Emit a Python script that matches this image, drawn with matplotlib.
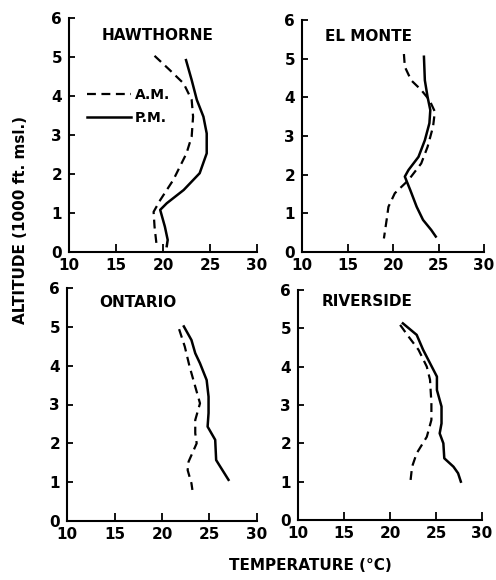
import matplotlib
matplotlib.use("Agg")
import matplotlib.pyplot as plt

plt.rcParams['font.family'] = ['DejaVu Sans']
plt.rcParams['font.weight'] = 'bold'

stations = ["HAWTHORNE", "EL MONTE", "ONTARIO", "RIVERSIDE"]

# Hawthorne
haw_am_t = [19.1, 20.7, 22.2, 23.05, 23.2, 23.05, 22.5, 21.1, 19.7, 19.0, 19.1, 19.3]
haw_am_z = [5.03, 4.67, 4.32, 3.9, 3.47, 2.96, 2.53, 1.85, 1.33, 1.03, 0.65, 0.22]
haw_pm_t = [22.45, 23.05, 23.6, 24.3, 24.65, 24.65, 23.9, 22.2, 20.4, 19.7, 20.2, 20.5, 20.4]
haw_pm_z = [4.92, 4.41, 3.9, 3.47, 3.04, 2.53, 2.02, 1.59, 1.25, 1.08, 0.65, 0.31, 0.15]

# El Monte
elm_am_t = [21.2, 21.3, 22.0, 23.1, 24.0, 24.6, 24.4, 23.8, 23.1, 21.7, 20.2, 19.5, 19.3, 19.0]
elm_am_z = [5.12, 4.79, 4.44, 4.19, 3.93, 3.63, 3.24, 2.72, 2.29, 1.86, 1.52, 1.17, 0.83, 0.35]
elm_pm_t = [23.4, 23.5, 23.8, 24.1, 24.0, 23.5, 22.8, 21.7, 21.3, 21.9, 22.6, 23.3, 24.2, 24.7]
elm_pm_z = [5.05, 4.44, 4.01, 3.67, 3.33, 2.89, 2.46, 2.12, 1.95, 1.6, 1.17, 0.83, 0.57, 0.4]

# Ontario
ont_am_t = [21.8, 22.4, 22.9, 23.5, 24.0, 23.5, 23.5, 23.65, 22.8, 22.7, 23.1, 23.2]
ont_am_z = [4.94, 4.49, 3.98, 3.46, 3.03, 2.6, 2.26, 2.0, 1.53, 1.31, 0.97, 0.8]
ont_pm_t = [22.3, 23.1, 23.5, 24.0, 24.7, 24.9, 24.9, 24.8, 25.6, 25.7, 25.9, 27.0]
ont_pm_z = [5.01, 4.66, 4.32, 4.06, 3.63, 3.2, 2.78, 2.43, 2.09, 1.57, 1.49, 1.06]

# Riverside
riv_am_t = [21.1, 22.0, 23.1, 24.0, 24.35, 24.5, 24.5, 24.0, 22.9, 22.4, 22.2]
riv_am_z = [5.09, 4.79, 4.44, 4.0, 3.66, 3.05, 2.61, 2.17, 1.74, 1.39, 0.96]
riv_pm_t = [21.4, 22.9, 23.6, 24.35, 25.1, 25.1, 25.6, 25.6, 25.4, 25.8, 25.9, 26.9, 27.4, 27.7]
riv_pm_z = [5.13, 4.83, 4.44, 4.09, 3.74, 3.39, 2.96, 2.52, 2.26, 2.0, 1.61, 1.39, 1.22, 1.0]

x_ticks = [10, 15, 20, 25, 30]
y_ticks = [0, 1, 2, 3, 4, 5, 6]

data = [
    (haw_am_t, haw_am_z, haw_pm_t, haw_pm_z),
    (elm_am_t, elm_am_z, elm_pm_t, elm_pm_z),
    (ont_am_t, ont_am_z, ont_pm_t, ont_pm_z),
    (riv_am_t, riv_am_z, riv_pm_t, riv_pm_z),
]

W, H = 496, 580
boxes = [  # left, right, top, bottom in pixels
    (69, 257, 18, 252),
    (302, 484, 20, 252),
    (67, 257, 288, 521),
    (298, 482, 290, 520),
]
title_pos = [(0.176, 0.927), (0.126, 0.93), (0.168, 0.936), (0.13, 0.948)]

fig = plt.figure(figsize=(W / 100, H / 100), dpi=100)
for i, (name, (amt, amz, pmt, pmz), (l, r, t, b)) in enumerate(zip(stations, data, boxes)):
    ax = fig.add_axes([l / W, 1 - b / H, (r - l) / W, (b - t) / H])
    ax.plot(amt, amz, color='black', lw=1.6, linestyle=(0, (4, 2.5)), label='A.M.')
    ax.plot(pmt, pmz, color='black', lw=1.8, label='P.M.')
    ax.set_xlim(10, 30)
    ax.set_ylim(0, 6)
    ax.set_xticks(x_ticks)
    ax.set_yticks(y_ticks)
    ax.set_xticklabels([str(v) for v in x_ticks])
    ax.set_yticklabels([str(v) for v in y_ticks])
    for s in ['top', 'right']:
        ax.spines[s].set_visible(False)
    for s in ['left', 'bottom']:
        ax.spines[s].set_linewidth(1.5)
    ax.tick_params(axis='x', direction='in', length=6, width=1.3, pad=4, labelsize=11)
    ax.tick_params(axis='y', direction='in', length=4, width=1.3, pad=5, labelsize=11)
    for lab in ax.get_xticklabels() + ax.get_yticklabels():
        lab.set_fontweight('bold')
    tx, ty = title_pos[i]
    ax.text(tx, ty, name, transform=ax.transAxes, fontsize=11, fontweight='bold',
            va='center', ha='left')
    if i == 0:
        ax.legend(loc='upper left', bbox_to_anchor=(0.095, 0.70), frameon=False,
                  handlelength=3.2, handletextpad=0.25, labelspacing=0.6,
                  borderpad=0, borderaxespad=0, prop={'weight': 'bold', 'size': 10})

fig.text(21 / W, 1 - 220 / H, "ALTITUDE (1000 ft. msl.)", rotation=90, fontsize=11,
         fontweight='bold', ha='center', va='center')
fig.text(310 / W, 1 - 566 / H, "TEMPERATURE (°C)", fontsize=11, fontweight='bold',
         ha='center', va='center')

fig.savefig("out.png", dpi=100)
